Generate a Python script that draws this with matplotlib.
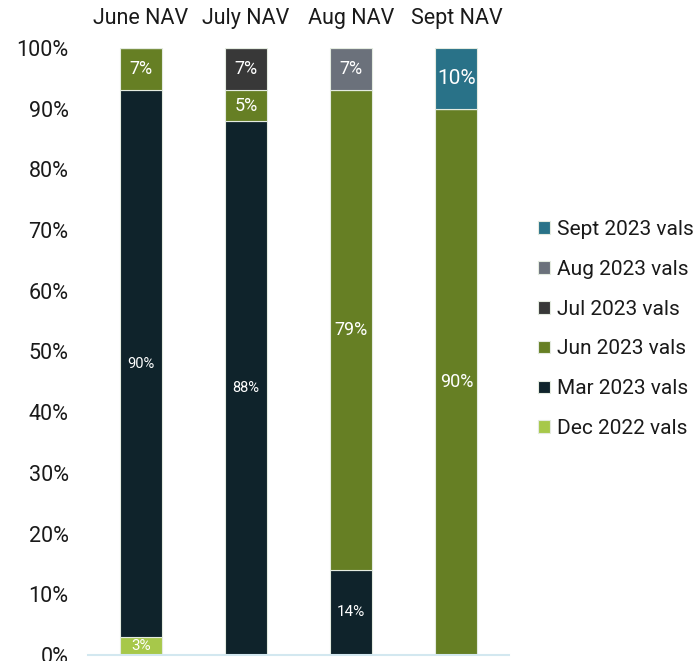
import matplotlib.pyplot as plt
from matplotlib.ticker import PercentFormatter, MultipleLocator

plt.rcParams["font.family"] = ["Roboto", "DejaVu Sans"]

# NAV months along the top, vintage of valuations stacked within each bar
categories = ["June NAV", "July NAV", "Aug NAV", "Sept NAV"]
series_names = ["Dec 2022 vals", "Mar 2023 vals", "Jun 2023 vals",
                "Jul 2023 vals", "Aug 2023 vals", "Sept 2023 vals"]
dec_2022 = [3, 0, 0, 0]
mar_2023 = [90, 88, 14, 0]
jun_2023 = [7, 5, 79, 90]
jul_2023 = [0, 7, 0, 0]
aug_2023 = [0, 0, 7, 0]
sep_2023 = [0, 0, 0, 10]
series_values = [dec_2022, mar_2023, jun_2023, jul_2023, aug_2023, sep_2023]

colors = ["#a7c84a", "#0f232b", "#667f24", "#383838", "#6b717b", "#297288"]
# label font size per series / bar, Excel shrinks some of them
label_sizes = [
    [11, 0, 0, 0],
    [10.5, 10.5, 11, 0],
    [13, 13, 13, 13],
    [0, 13, 0, 0],
    [0, 0, 13, 0],
    [0, 0, 0, 15],
]

fig = plt.figure(figsize=(6.97, 6.61), dpi=100)
ax = fig.add_axes([0.1263, 0.0091, 0.604, 0.9183])

x = list(range(len(categories)))
bottoms = [0] * len(categories)
handles = []
for name, vals, col, sizes in zip(series_names, series_values, colors, label_sizes):
    bars = ax.bar(x, vals, width=0.4, bottom=bottoms, color=col,
                  edgecolor="#e4ebe0", linewidth=0.8, label=name)
    handles.append(bars)
    for xi, v, b, fs in zip(x, vals, bottoms, sizes):
        if v > 0:
            ax.text(xi, b + v / 2, f"{v}%", ha="center", va="center",
                    color="white", fontsize=fs)
    bottoms = [b + v for b, v in zip(bottoms, vals)]

ax.set_xlim(-0.5, 3.5)
ax.set_ylim(0, 100)
ax.yaxis.set_major_locator(MultipleLocator(10))
ax.yaxis.set_major_formatter(PercentFormatter(decimals=0))
ax.set_xticks(x)
ax.set_xticklabels(categories)
ax.xaxis.tick_top()
ax.tick_params(axis="x", length=0, pad=14, labelsize=15.5, colors="#1a1a1a")
ax.tick_params(axis="y", length=0, pad=14, labelsize=15.5, colors="#1a1a1a")

for side in ["top", "left", "right"]:
    ax.spines[side].set_visible(False)
ax.spines["bottom"].set_color("#d3e8f0")
ax.spines["bottom"].set_linewidth(1.5)

leg = ax.legend(handles[::-1], series_names[::-1], loc="center left",
                bbox_to_anchor=(1.05, 0.537), frameon=False, fontsize=15,
                handlelength=0.57, handleheight=0.57, handletextpad=0.3,
                labelspacing=1.0, borderaxespad=0)
for t in leg.get_texts():
    t.set_color("#1a1a1a")

fig.savefig("out.png", dpi=100)
